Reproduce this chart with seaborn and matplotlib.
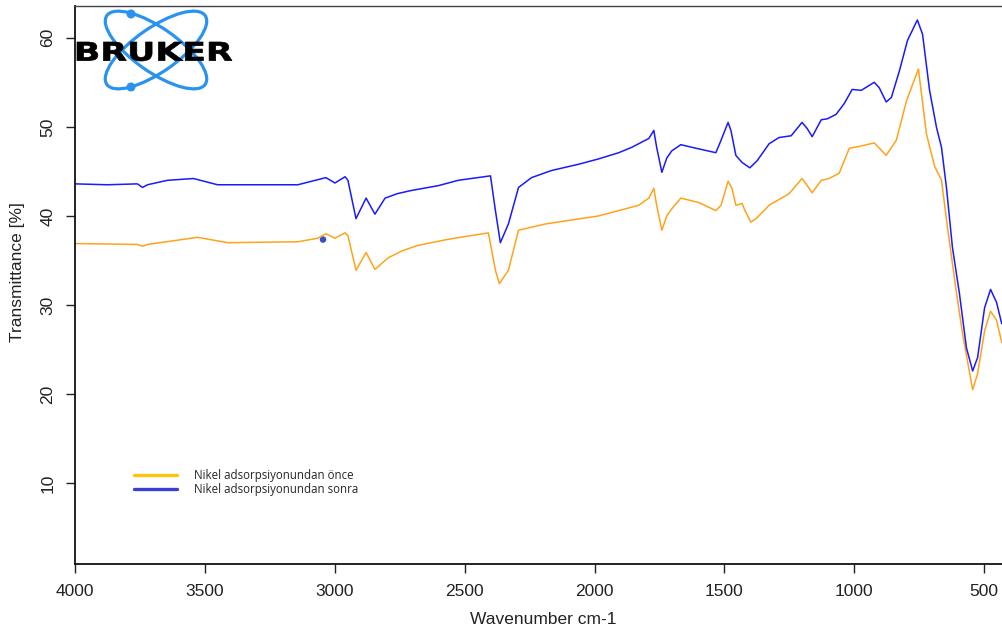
import numpy as np
import pandas as pd
import seaborn as sns
from matplotlib import pyplot as plt
from matplotlib.lines import Line2D
from matplotlib.patches import Ellipse, Circle, PathPatch
from matplotlib.textpath import TextPath
from matplotlib.font_manager import FontProperties
from matplotlib.transforms import Affine2D

# FTIR spectra
wn_after = [4000, 3876, 3761, 3741, 3722, 3645, 3545, 3452, 3413, 3143, 3035, 3000, 2961, 2950,
            2919, 2880, 2846, 2807, 2760, 2707, 2602, 2525, 2401, 2382, 2363, 2332, 2293, 2243,
            2166, 2062, 1985, 1907, 1857, 1791, 1772, 1761, 1741, 1722, 1703, 1668, 1610, 1533,
            1513, 1486, 1475, 1456, 1432, 1402, 1374, 1328, 1290, 1243, 1201, 1181, 1162, 1127,
            1104, 1070, 1039, 1008, 973, 923, 904, 877, 857, 826, 795, 757, 737, 710, 683, 664,
            645, 622, 595, 568, 544, 525, 498, 475, 452, 432]
t_after = [43.6, 43.5, 43.6, 43.2, 43.5, 44.0, 44.2, 43.5, 43.5, 43.5, 44.3, 43.7, 44.4, 44.0,
           39.7, 42.0, 40.2, 42.0, 42.5, 42.85, 43.4, 44.0, 44.5, 40.6, 37.0, 39.1, 43.2, 44.3,
           45.1, 45.8, 46.4, 47.1, 47.7, 48.7, 49.6, 47.7, 44.9, 46.5, 47.3, 48.0, 47.6, 47.1,
           48.5, 50.5, 49.6, 46.8, 46.0, 45.4, 46.2, 48.1, 48.8, 49.0, 50.5, 49.8, 48.9, 50.8,
           50.9, 51.4, 52.6, 54.2, 54.1, 55.0, 54.4, 52.8, 53.3, 56.3, 59.7, 62.0, 60.4, 54.1,
           49.9, 47.7, 43.2, 36.5, 31.3, 25.2, 22.6, 24.1, 29.7, 31.75, 30.3, 27.9]

wn_before = [4000, 3761, 3741, 3722, 3529, 3413, 3143, 3066, 3035, 3000, 2961, 2950, 2919, 2880,
             2846, 2795, 2740, 2680, 2560, 2409, 2382, 2367, 2332, 2293, 2189, 1985, 1830, 1791,
             1772, 1761, 1741, 1722, 1703, 1668, 1598, 1533, 1513, 1486, 1471, 1456, 1432, 1421,
             1398, 1374, 1328, 1251, 1201, 1181, 1162, 1127, 1097, 1058, 1019, 981, 923, 877,
             838, 799, 753, 722, 691, 664, 641, 606, 583, 544, 525, 498, 475, 452, 432]
t_before = [36.9, 36.8, 36.6, 36.8, 37.6, 37.0, 37.1, 37.5, 38.0, 37.5, 38.1, 37.8, 33.9, 35.9,
            34.0, 35.3, 36.1, 36.7, 37.4, 38.1, 33.9, 32.4, 33.9, 38.4, 39.1, 40.0, 41.2, 42.0,
            43.1, 41.2, 38.4, 40.0, 40.8, 42.0, 41.5, 40.6, 41.2, 43.9, 43.1, 41.2, 41.4, 40.6,
            39.3, 39.8, 41.2, 42.5, 44.2, 43.4, 42.6, 44.0, 44.2, 44.8, 47.6, 47.8, 48.2, 46.8,
            48.5, 52.9, 56.5, 49.2, 45.6, 44.0, 38.7, 31.3, 26.8, 20.5, 22.3, 27.1, 29.3, 28.3,
            25.8]

marker_wn = [3046]
marker_t = [37.35]

labels = ["Nikel adsorpsiyonundan önce", "Nikel adsorpsiyonundan sonra"]
x_ticks = [4000, 3500, 3000, 2500, 2000, 1500, 1000, 500]
y_ticks = [10, 20, 30, 40, 50, 60]

sns.set_style("white")
plt.rcParams['font.family'] = ['Liberation Sans', 'DejaVu Sans']

fig = plt.figure(figsize=(10.02, 6.32), dpi=100)
ax = fig.add_axes([75.3 / 1002, 68 / 632, 926.7 / 1002, 558.3 / 632])

after = pd.DataFrame({"wn": wn_after, "t": t_after})
before = pd.DataFrame({"wn": wn_before, "t": t_before})
sns.lineplot(data=before, x="wn", y="t", color="#ffa31a", linewidth=1.1, ax=ax)
sns.lineplot(data=after, x="wn", y="t", color="#1a1aff", linewidth=1.1, ax=ax)
sns.scatterplot(x=marker_wn, y=marker_t, color="#3550c8", s=22, edgecolor="none", ax=ax)

ax.set_xlim(4000, 431)
ax.set_ylim(0.93, 63.6)
ax.set_xticks(x_ticks)
ax.set_yticks(y_ticks)
ax.set_xlabel("")
ax.set_ylabel("")
ax.tick_params(axis="both", direction="out", length=6.5, width=1, color="#222222",
               labelsize=12.5, labelcolor="#222222", pad=8, left=True, bottom=True)
for lbl in ax.get_yticklabels():
    lbl.set_rotation(90)
    lbl.set_va("center")
for side in ["left", "bottom"]:
    ax.spines[side].set_color("#111111")
    ax.spines[side].set_linewidth(1.3)
ax.spines["top"].set_color("#444444")
ax.spines["top"].set_linewidth(1.0)
ax.spines["right"].set_visible(False)

fig.text(18 / 1002, 1 - 272 / 632, "Transmittance [%]", rotation=90, ha="center",
         va="center", fontsize=12.5, color="#222222")
fig.text(543 / 1002, 1 - 620 / 632, "Wavenumber cm-1", ha="center", va="center",
         fontsize=12.5, color="#222222")

handles = [Line2D([], [], color="#ffc20e", lw=2.4), Line2D([], [], color="#3a3fd0", lw=2.4)]
leg = ax.legend(handles, labels, loc="upper left", bbox_to_anchor=(0.057, 0.181),
                frameon=False, borderpad=0, handlelength=3.7, handletextpad=1.5,
                labelspacing=0.15, prop={"family": ["Open Sans", "DejaVu Sans"], "size": 8.3})

# BRUKER logo, drawn in pixel units
lx = fig.add_axes([70 / 1002, (632 - 95) / 632, 170 / 1002, 90 / 632])
lx.set_xlim(70, 240)
lx.set_ylim(95, 5)
lx.axis("off")
logo_blue = "#2a93f0"
for ang in (35, -35):
    lx.add_patch(Ellipse((156, 50), 120, 44, angle=ang, fill=False, lw=2.3, ec=logo_blue))
lx.add_patch(Circle((131, 14), 3.8, color=logo_blue))
lx.add_patch(Circle((131, 87), 3.8, color=logo_blue))
tp = TextPath((0, 0), "BRUKER", size=1, prop=FontProperties(family="DejaVu Sans", weight="bold"))
ext = tp.get_extents()
sx = 155 / ext.width
sy = 19 / ext.height
tr = Affine2D().translate(-ext.x0, -ext.y0).scale(sx, -sy).translate(77, 61)
lx.add_patch(PathPatch(tr.transform_path(tp), fc="black", ec="black", lw=0.5))

fig.savefig("out.png", dpi=100)
